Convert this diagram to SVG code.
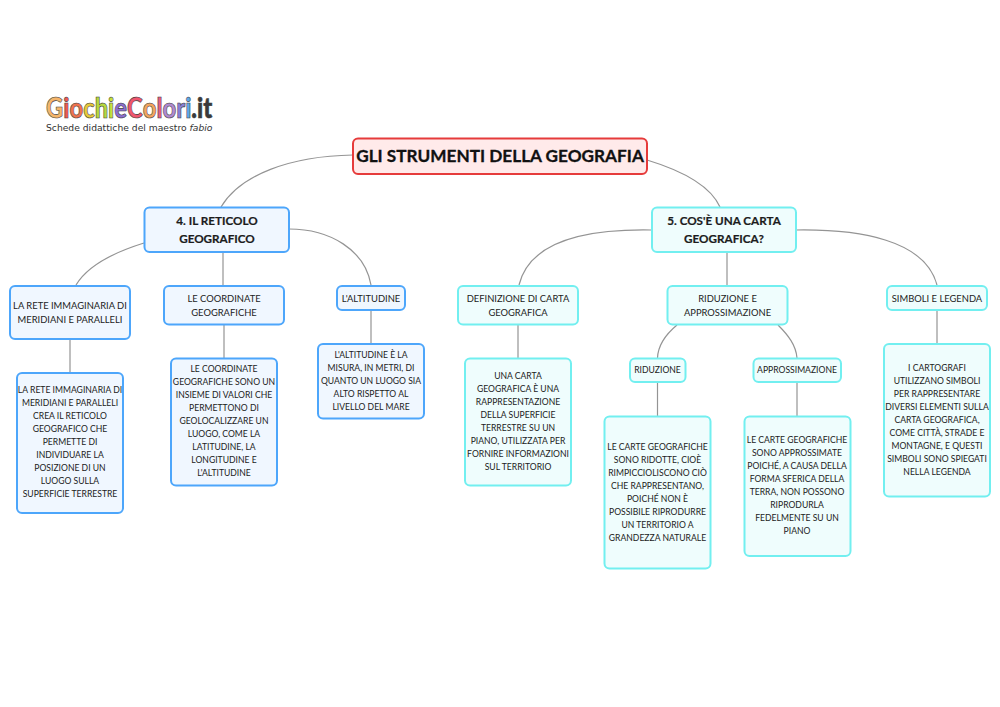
<svg xmlns="http://www.w3.org/2000/svg" width="1000" height="707" viewBox="0 0 1000 707">
<style>
text{font-family:"Lato","Noto Sans",sans-serif;text-anchor:middle;fill:#1c1c1c}
.b rect{fill:#f0f7ff;stroke:#4da6fb;stroke-width:2}
.c rect{fill:#effdfd;stroke:#72eff0;stroke-width:2}
.r rect{fill:#ffeaea;stroke:#e63b3b;stroke-width:2}
.t{font-size:8.6px}
.m{font-size:9.4px}
.h{font-size:11.7px;font-weight:700;stroke:#1c1c1c;stroke-width:.2px}
.root{font-size:17.2px;font-weight:700;fill:#111;stroke:#111;stroke-width:.3px}
#connectors path{fill:none;stroke:#949494;stroke-width:1.2}
.logo{font-size:29px;font-weight:900;stroke:#3a3a3a;stroke-width:.6px;text-anchor:start}
.sub{font-family:"DejaVu Sans",sans-serif;font-size:9.2px;text-anchor:start;fill:#333}
</style>
<rect width="1000" height="707" fill="#fff"/>
<g id="connectors">
<path d="M353 155C290 156 240 175 221 207"/>
<path d="M647 160C680 170 710 185 720 207"/>
<path d="M144 243C115 252 88 265 76 285"/>
<path d="M289 229C330 229 365 250 371 285"/>
<path d="M223 252V285"/>
<path d="M651 230C590 229 530 240 519 285"/>
<path d="M727 252V285"/>
<path d="M796 230C860 229 925 240 937 285"/>
<path d="M70 339V372"/>
<path d="M224 324V358"/>
<path d="M371 310V343"/>
<path d="M518 324V358"/>
<path d="M937 310V343"/>
<path d="M677 325C665 335 658 345 657.500 358"/>
<path d="M778 325C788 335 796 345 797 358"/>
<path d="M657.500 382V416"/>
<path d="M797 382V416"/>
</g>
<g id="logo">
<text class="logo" transform="translate(46 118) scale(.82 1)"><tspan fill="#f5b56b">G</tspan><tspan fill="#ee5a52">i</tspan><tspan fill="#f0734f">o</tspan><tspan fill="#e9c93a">c</tspan><tspan fill="#b5d83f">h</tspan><tspan fill="#c7e23c">i</tspan><tspan fill="#8c6fd0">e</tspan><tspan fill="#f0566e">C</tspan><tspan fill="#f3a55f">o</tspan><tspan fill="#e95f7e">l</tspan><tspan fill="#b08ad0">o</tspan><tspan fill="#8a80d5">r</tspan><tspan fill="#5fa8e8">i</tspan><tspan fill="#3a3a3a">.it</tspan></text>
<text class="sub" x="46" y="131">Schede didattiche del maestro <tspan font-style="italic">fabio</tspan></text>
</g>
<g id="root" class="r"><rect x="353" y="138.500" width="294" height="35.500" rx="5"/><text class="root" x="500" y="162">GLI STRUMENTI DELLA GEOGRAFIA</text></g>
<g id="n4" class="b"><rect x="144.500" y="207.500" width="144.500" height="44.500" rx="5"/><text class="h" x="217" y="225">4. IL RETICOLO</text><text class="h" x="217" y="242.500">GEOGRAFICO</text></g>
<g id="n5" class="c"><rect x="652" y="207.500" width="144" height="44.500" rx="5"/><text class="h" x="724" y="225">5. COS'È UNA CARTA</text><text class="h" x="724" y="242.500">GEOGRAFICA?</text></g>
<g id="rete" class="b"><rect x="10" y="286" width="120" height="53" rx="5"/><text class="m" x="70" y="308.500">LA RETE IMMAGINARIA DI</text><text class="m" x="70" y="322.500">MERIDIANI E PARALLELI</text></g>
<g id="coord" class="b"><rect x="164" y="286" width="120" height="38.500" rx="5"/><text class="m" x="224" y="301.500">LE COORDINATE</text><text class="m" x="224" y="315.500">GEOGRAFICHE</text></g>
<g id="alt" class="b"><rect x="337" y="286" width="68" height="24" rx="5"/><text class="m" x="371" y="301.500">L'ALTITUDINE</text></g>
<g id="def" class="c"><rect x="458" y="286" width="120" height="38.500" rx="5"/><text class="m" x="518" y="301.500">DEFINIZIONE DI CARTA</text><text class="m" x="518" y="315.500">GEOGRAFICA</text></g>
<g id="ridapp" class="c"><rect x="667.500" y="286" width="120" height="38.500" rx="5"/><text class="m" x="727.500" y="301.500">RIDUZIONE E</text><text class="m" x="727.500" y="315.500">APPROSSIMAZIONE</text></g>
<g id="simboli" class="c"><rect x="887" y="286" width="100" height="24" rx="5"/><text class="m" x="937" y="301.500">SIMBOLI E LEGENDA</text></g>
<g id="rid" class="c"><rect x="630" y="358.500" width="55.500" height="23.500" rx="5"/><text class="t" x="657.500" y="373.300">RIDUZIONE</text></g>
<g id="app" class="c"><rect x="753.500" y="358.500" width="87.500" height="23.500" rx="5"/><text class="t" x="797" y="373.300">APPROSSIMAZIONE</text></g>
<g id="rete-d" class="b"><rect x="17" y="373" width="106" height="140" rx="5"/><text class="t" x="70" y="393.300">LA RETE IMMAGINARIA DI</text><text class="t" x="70" y="406.300">MERIDIANI E PARALLELI</text><text class="t" x="70" y="419.300">CREA IL RETICOLO</text><text class="t" x="70" y="432.300">GEOGRAFICO CHE</text><text class="t" x="70" y="445.300">PERMETTE DI</text><text class="t" x="70" y="458.300">INDIVIDUARE LA</text><text class="t" x="70" y="471.300">POSIZIONE DI UN</text><text class="t" x="70" y="484.300">LUOGO SULLA</text><text class="t" x="70" y="497.300">SUPERFICIE TERRESTRE</text></g>
<g id="coord-d" class="b"><rect x="171" y="358.500" width="106" height="127" rx="5"/><text class="t" x="224" y="372.300">LE COORDINATE</text><text class="t" x="224" y="385.300">GEOGRAFICHE SONO UN</text><text class="t" x="224" y="398.300">INSIEME DI VALORI CHE</text><text class="t" x="224" y="411.300">PERMETTONO DI</text><text class="t" x="224" y="424.300">GEOLOCALIZZARE UN</text><text class="t" x="224" y="437.300">LUOGO, COME LA</text><text class="t" x="224" y="450.300">LATITUDINE, LA</text><text class="t" x="224" y="463.300">LONGITUDINE E</text><text class="t" x="224" y="476.300">L'ALTITUDINE</text></g>
<g id="alt-d" class="b"><rect x="318" y="344" width="106" height="74.500" rx="5"/><text class="t" x="371" y="358">L'ALTITUDINE È LA</text><text class="t" x="371" y="371">MISURA, IN METRI, DI</text><text class="t" x="371" y="384">QUANTO UN LUOGO SIA</text><text class="t" x="371" y="397">ALTO RISPETTO AL</text><text class="t" x="371" y="410">LIVELLO DEL MARE</text></g>
<g id="def-d" class="c"><rect x="465" y="358.500" width="106" height="127" rx="5"/><text class="t" x="518" y="379">UNA CARTA</text><text class="t" x="518" y="392">GEOGRAFICA È UNA</text><text class="t" x="518" y="405">RAPPRESENTAZIONE</text><text class="t" x="518" y="418">DELLA SUPERFICIE</text><text class="t" x="518" y="431">TERRESTRE SU UN</text><text class="t" x="518" y="444">PIANO, UTILIZZATA PER</text><text class="t" x="518" y="457">FORNIRE INFORMAZIONI</text><text class="t" x="518" y="470">SUL TERRITORIO</text></g>
<g id="rid-d" class="c"><rect x="604.500" y="416.500" width="106" height="152" rx="5"/><text class="t" x="657.500" y="450">LE CARTE GEOGRAFICHE</text><text class="t" x="657.500" y="463">SONO RIDOTTE, CIOÈ</text><text class="t" x="657.500" y="476">RIMPICCIOLISCONO CIÒ</text><text class="t" x="657.500" y="489">CHE RAPPRESENTANO,</text><text class="t" x="657.500" y="502">POICHÉ NON È</text><text class="t" x="657.500" y="515">POSSIBILE RIPRODURRE</text><text class="t" x="657.500" y="528">UN TERRITORIO A</text><text class="t" x="657.500" y="541">GRANDEZZA NATURALE</text></g>
<g id="app-d" class="c"><rect x="744.500" y="416.500" width="106" height="139.500" rx="5"/><text class="t" x="797" y="443.300">LE CARTE GEOGRAFICHE</text><text class="t" x="797" y="456.300">SONO APPROSSIMATE</text><text class="t" x="797" y="469.300">POICHÉ, A CAUSA DELLA</text><text class="t" x="797" y="482.300">FORMA SFERICA DELLA</text><text class="t" x="797" y="495.300">TERRA, NON POSSONO</text><text class="t" x="797" y="508.300">RIPRODURLA</text><text class="t" x="797" y="521.300">FEDELMENTE SU UN</text><text class="t" x="797" y="534.300">PIANO</text></g>
<g id="sim-d" class="c"><rect x="884" y="344" width="106" height="152.500" rx="5"/><text class="t" x="937" y="371">I CARTOGRAFI</text><text class="t" x="937" y="384">UTILIZZANO SIMBOLI</text><text class="t" x="937" y="397">PER RAPPRESENTARE</text><text class="t" x="937" y="410">DIVERSI ELEMENTI SULLA</text><text class="t" x="937" y="423">CARTA GEOGRAFICA,</text><text class="t" x="937" y="436">COME CITTÀ, STRADE E</text><text class="t" x="937" y="449">MONTAGNE, E QUESTI</text><text class="t" x="937" y="462">SIMBOLI SONO SPIEGATI</text><text class="t" x="937" y="475">NELLA LEGENDA</text></g>
</svg>
